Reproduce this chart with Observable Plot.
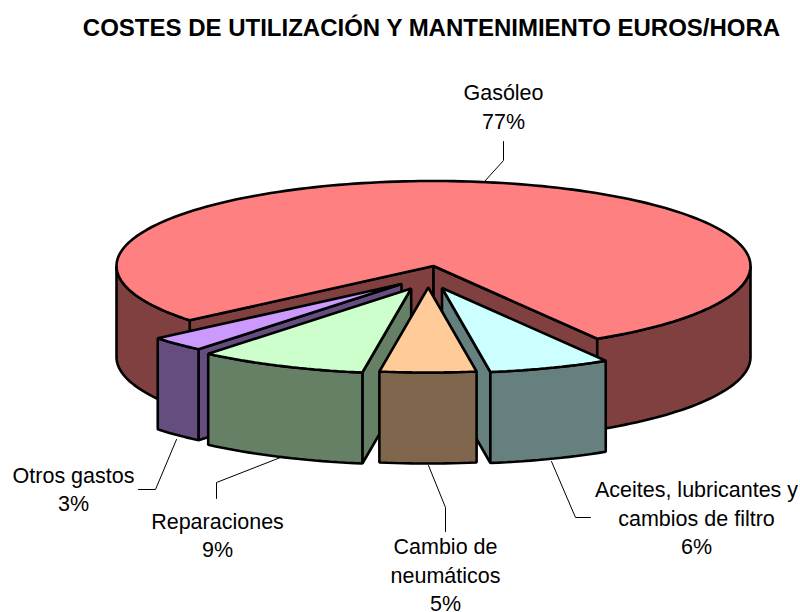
<!DOCTYPE html>
<html><head><meta charset="utf-8">
<style>html,body{margin:0;padding:0;background:#fff}svg{display:block}</style>
<script src="https://cdn.jsdelivr.net/npm/d3@7"></script>
<script src="https://cdn.jsdelivr.net/npm/@observablehq/plot@0.6"></script>
</head><body><div id="chart"></div>
<script>
const titleText = "COSTES DE UTILIZACIÓN Y MANTENIMIENTO EUROS/HORA";
// Clockwise from the start of the first slice
const categories = ["Aceites, lubricantes y\ncambios de filtro", "Cambio de\nneumáticos", "Reparaciones", "Otros gastos", "Gasóleo"];
const shares = [6.2, 4.9, 8.6, 2.9, 77.4];
const percentLabels = ["6%", "5%", "9%", "3%", "77%"];
const topColors = ["#CCFFFF", "#FFCC99", "#CCFFCC", "#CC99FF", "#FF8080"];
const sideColors = ["#668080", "#80664D", "#668066", "#664D80", "#804040"];
// Layout of the tilted pie, in the chart's own units
const pieCentre = [433, 265.5], radiusX = 317, radiusY = 85, depth = 91, startDeg = 58.9;
const explode = [[8.5, 22], [-5.3, 21.5], [-22.3, 22.5], [-32, 18], [0, 0]];
const labelAt = [[696, 516], [445, 573], [217, 533.5], [73, 487.5], [503, 105]];
const leaders = [
  [[551, 461], [575, 517], [590, 517]],
  [[428, 465], [445, 507], [445, 531]],
  [[280, 457], [216, 482], [216, 498]],
  [[176, 439], [155, 489], [138, 489]],
  [[484, 181], [503, 160], [503, 141]]
];
const drawOrder = [4, 3, 2, 0, 1];

let a = startDeg;
const spans = shares.map(s => { const from = a; a += s * 3.6; return [from, a]; });
const faces = [];
drawOrder.forEach(i => {
  const [from, to] = spans[i];
  const cx = pieCentre[0] + explode[i][0], cy = pieCentre[1] + explode[i][1];
  const rim = d => { const r = d * Math.PI / 180; return [cx + radiusX * Math.cos(r), cy + radiusY * Math.sin(r)]; };
  const down = p => [p[0], p[1] + depth];
  const arc = (d0, d1) => { const n = Math.max(2, Math.ceil((d1 - d0) / 1.5)); return d3.range(n + 1).map(k => rim(d0 + (d1 - d0) * k / n)); };
  // radial walls facing the viewer
  if (Math.cos(from * Math.PI / 180) < 0) faces.push({ fill: sideColors[i], pts: [[cx, cy], rim(from), down(rim(from)), [cx, cy + depth]] });
  if (Math.cos(to * Math.PI / 180) > 0) faces.push({ fill: sideColors[i], pts: [[cx, cy], rim(to), down(rim(to)), [cx, cy + depth]] });
  // outer rim: visible for angles 0..180 (also modulo 360)
  [[Math.max(from, 0), Math.min(to, 180)], [Math.max(from, 360), Math.min(to, 540)]].forEach(([d0, d1]) => {
    if (d1 > d0) { const top = arc(d0, d1); faces.push({ fill: sideColors[i], pts: [...top, ...top.slice().reverse().map(down)] }); }
  });
  faces.push({ fill: topColors[i], pts: [[cx, cy], ...arc(from, to)] });
});

const rows = categories.map((c, i) => ({ text: c + "\n" + percentLabels[i], x: labelAt[i][0], y: labelAt[i][1] }));

const chart = Plot.plot({
  width: 800, height: 612, margin: 0,
  x: { domain: [0, 800], range: [0, 800], axis: null },
  y: { domain: [0, 612], range: [0, 612], axis: null },
  marks: [
    ...faces.map(f => Plot.line(f.pts, { x: d => d[0], y: d => d[1], curve: "linear-closed", fill: f.fill, stroke: "#000", strokeWidth: 2.6, strokeLinejoin: "miter" })),
    ...leaders.map(l => Plot.line(l, { x: d => d[0], y: d => d[1], stroke: "#000", strokeWidth: 1 })),
    Plot.text(rows, { x: "x", y: "y", text: "text", lineAnchor: "middle", lineHeight: 1.33, fontSize: 21.5, fill: "#000", fontFamily: "Liberation Sans, Arial, sans-serif" }),
    Plot.text([titleText], { x: () => 431, y: () => 28, text: d => d, fontSize: 24, fontWeight: "bold", fill: "#000", fontFamily: "Liberation Sans, Arial, sans-serif" })
  ]
});
document.getElementById("chart").append(chart);
</script></body></html>
